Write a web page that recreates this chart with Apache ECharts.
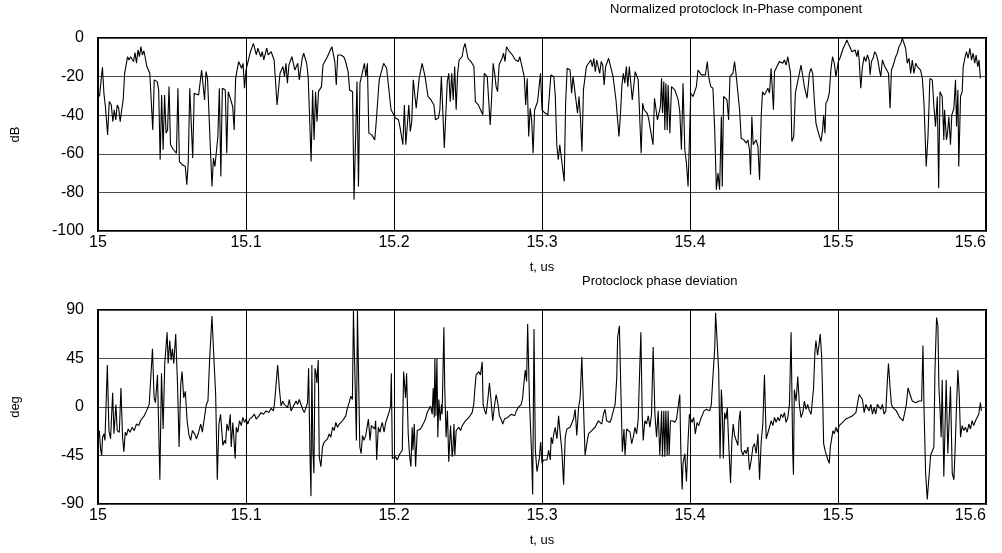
<!DOCTYPE html>
<html>
<head>
<meta charset="UTF-8"/>
<title>protoclock</title>
<script src="https://cdn.jsdelivr.net/npm/echarts@6.0.0/dist/echarts.min.js"></script>
<style>
html,body{margin:0;padding:0;background:#fff;}
#chart{width:1002px;height:553px;}
</style>
</head>
<body>
<div id="chart"></div>
<script type="text/javascript">
// time after 15 us, in ns
var tTopNs = [1,3,4,5,6.5,7.6,9,10,11,12,13,14,15,16,17,18,20,21,22,24,25,26,27,28,29,30,31,32,33,35,37,38,40,41,42,43,44,45,46,47,48,49,51,53,54,55,57,59,60,61,62,63,64,65,66,68,70,71,72,73,74,75,77,78,79,81,82,83,84,86,87,88,89,91,92,93,95,97,98,99,100,101,103,105,107,108,110,111,112,114,115,117,
118,119,121,123,125,126,127,128,129,131,132,133,135,136,138,139,140,141,142,144,145,146,147,148,149,151,152,153,155,158,160,161,162,164,166,167,169,170,172,173,175,176,177,178,180,181,182,183,185,187,188,190,191,193,195,198,201,203,204,206,207,208,210,211,212,213,215,217,219,221,223,225,227,228,230,231,232,234,236,
237,238,239,240,241,242,243,244,246,247,248,250,252,254,255,257,258,260,261,263,265,266,267,268,269,270,271,273,274,275,276,278,280,282,283,284,285,287,288,289,290,291,292,293,294,295,297,298,299,300,302,304,306,308,309,310,311,312,315,316,317,319,320,321,322,324,325,326,327,328,329,330,331,333,334,335,336,337,338,339,340,341,342,343,345,346,348,350,352,353,354,355,356,357,358,359,
361,362,363,364,365,367,368,369,371,372,373,375,376,377,378,380,380.8,381.4,382.3,383,383.7,384.6,385.2,386.4,387.5,388.6,389.7,390.9,392,393.1,394.2,395.3,396.5,397.6,398.7,400.5,402.1,403.2,404.3,405.4,406.6,407.7,408.8,410.4,411.7,412.6,414,415.5,416.7,417.8,418.9,420,421.2,421.8,422.7,423.9,425,426.1,427,427.9,429,430.1,431.3,432.4,433.5,434.6,436.4,438,439.1,440.2,440.9,441.8,442.7,443.6,444.7,445.9,447,448.1,449,450.3,451.5,452.6,453.7,454.8,456.4,457.1,458.2,459.3,460.4,461.6,462.7,463.8,464.9,466.1,467.2,467.9,468.8,470.1,471.2,472.3,473.9,475,476.2,477.3,479.1,480.7,481.8,
482.9,484,485.1,486.2,487.4,488.5,489.6,490.3,491.2,491.8,493,494.1,495.2,496.3,497.5,498.6,499.3,500.2,501.3,502.4,503.5,504.6,506,506.9,508,509.4,510.5,511.6,512.7,513.6,514.3,515.4,516.5,517.7,518.8,519.9,521,521.7,522.6,523.7,524.8,526,527.1,528.2,528.9,530,531.6,532.9,534.1,535.2,536.1,537.4,539,540.1,541.2,542.4,543.5,544.6,545.7,546.8,548,549.1,550.2,551.3,552.5,553.6,554.7,555.8,557,558.1,559.6,560.8,562.1,563.7,564.8,565.9,567.1,568,568.9,570.4,571.5,572,573.3,574,574.9,576,576.9,578.3,579.4,580.1,581,581.6,582.8,583.9,584.6,585.7,586.8,587.9,589.1,590.2,591.3,592.4,593.3,594.4,595.3,596.2];
var dbTop = [-30.3,-15.2,-28.6,-35.5,-50.2,-32.9,-34.7,-43.3,-37.2,-42.4,-34.7,-36.4,-43.3,-37.2,-32.1,-18.3,-9.7,-11.4,-9.7,-12.2,-7.6,-13.1,-6.2,-9.7,-4.5,-8.8,-6.6,-10.5,-14.8,-18.3,-47.6,-21.7,-22.6,-26.9,-63.1,-29.5,-57.9,-29.5,-49.3,-47.6,-25.2,-55.3,-57.9,-59.7,-26,-64,-65.7,-66.6,-76,-64,-26,-26,-62.2,-28.6,-27.8,-29.5,-16.6,-17.4,-32.1,-17.4,-20.9,-21.7,-76.9,-62.2,-66.6,-51,-26,-71.7,-26,-26.9,-59.7,-27.8,-30.3,-35.5,-47.6,-20.9,-12.2,-15.7,-13.1,-26,-16.6,-16.6,-7.1,-2.8,-8.8,-5.3,-9.7,-7.1,-11.4,-5.3,-8.8,-7.1,
-7.9,-11.4,-34.7,-18.3,-14.8,-20,-13.1,-23.4,-14,-9.7,-8.8,-16.6,-13.1,-21.7,-10.5,-7.9,-8.8,-13.1,-20,-64,-26.9,-52.8,-27.8,-43.3,-27.8,-25.2,-14,-13.1,-9.7,-4.5,-12.2,-24.3,-8.8,-8.8,-9.7,-11.4,-17.4,-26.9,-27.8,-83.8,-22.6,-76.9,-23.4,-22.6,-13.1,-20,-13.1,-49.3,-50.2,-52.8,-43.3,-21.7,-20.9,-13.1,-15.7,-37.2,-41.5,-42.4,-45.9,-55.3,-34.7,-55.3,-34.7,-48.4,-43.3,-21.7,-36.4,-20.9,-13.1,-20,-30.3,-32.1,-34.7,-42.4,-41.5,-37.2,-20,-57,-22.6,
-18.3,-33,-18.3,-32.1,-14.8,-37.2,-18.3,-11.4,-9.7,-5.3,-2.8,-10.5,-12.2,-14.8,-33,-34.7,-36.4,-39.8,-18.3,-20,-45,-30.3,-13.1,-18.3,-25.2,-27.8,-14,-10.5,-7.9,-12.2,-4.5,-7.1,-8.8,-11.4,-10.5,-12.2,-9.7,-16.6,-20,-34.7,-20.9,-51,-36.4,-42.4,-59.7,-37.2,-33,-32.1,-18.3,-37.2,-38.9,-39.8,-19.1,-20,-30.3,-55.3,-63.1,-55.3,-74.3,-32.9,-15.7,-16.6,-28.6,-20,-19.1,-38.9,-30.3,-41.5,-58.8,-26.9,-26,-14.8,-15.7,-11.4,-14.8,-10.5,-17.4,-11.4,-11.4,-18.3,-12.2,-14,-24.3,-14.8,-10.5,-11.4,-20,-32.1,-51,-39.8,-24.3,-18.3,-23.4,-14.8,-25.2,-14.8,
-32.1,-31.2,-17.4,-18.3,-21.7,-59.7,-33.8,-37.2,-38.9,-41.5,-42.4,-55.3,-31.2,-32.1,-42.4,-35.5,-20.9,-38.9,-22.6,-47.6,-23.4,-47.6,-24.3,-49.3,-25.2,-26,-26.9,-29.5,-32.1,-38.1,-57.9,-23.4,-57.9,-64.8,-76.9,-28.6,-30.3,-29.5,-25.2,-16.6,-17.4,-19.1,-18.3,-19.1,-12.2,-20,-25.2,-26,-47.6,-78.6,-70,-78.6,-40.7,-76.9,-30.3,-29.5,-32.1,-42.4,-20,-20,-18.3,-12.2,-20,-20.9,-37.2,-51.9,-52.8,-54.5,-52.8,-57.9,-70.9,-40.7,-55.3,-54.5,-52.8,-56.2,-73.4,-40.7,-27.8,-29.5,-28.6,-26,-28.6,-15.7,-37.2,-17.4,-15.7,-16.6,-12.2,-11.4,-13.1,-11.4,-14,-9.7,-14.8,-18.3,-53.6,-51,-28.6,-24.3,-18.3,-14,-14.8,-25.2,-31.2,-18.3,-15.7,
-18.3,-32.1,-44.1,-47.6,-46.7,-53.6,-47.6,-39.8,-49.3,-33.8,-32.1,-28.6,-16.6,-9.7,-13.1,-20,-20,-12.2,-10.5,-7.9,-5.3,-3.6,-1,-2.8,-4.5,-7.1,-7.9,-6.2,-9.7,-6.2,-11.4,-26,-14.8,-9.7,-12.2,-8.8,-11.4,-19.1,-12.2,-10.5,-7.1,-8.8,-12.2,-17.4,-20,-11.4,-14.8,-14.8,-18.3,-36.4,-16.6,-14,-9.7,-7.9,-4.5,-2.8,-0.2,-1,-5.3,-13.1,-10.5,-18.3,-11.4,-18.3,-13.1,-14.8,-14.8,-16.6,-20.9,-33.8,-66.6,-51,-20.9,-21.7,-35.5,-45.9,-30.3,-77.8,-27.8,-30.3,-52.8,-37.2,-52.8,-49.3,-40.7,-55.3,-39.8,-36.4,-21.7,-45.9,-26.9,-66.6,-30.3,-27.8,-14.8,-10.5,-7.1,-10.5,-5.3,-11.4,-7.9,-13.1,-8.8,-14.8,-11.4,-20.9];

var tBotNs = [0.9,1.8,2.5,3.1,4,4.7,6.3,7.4,8.5,9.9,10.8,12.1,13,14.4,15.5,16.6,17.5,18.4,19.3,20.4,21.6,23.1,24.5,26,27.6,28.7,29.9,31.2,32.8,34.6,35.7,36.8,37.9,38.8,40.2,41.8,42.9,44,45.1,46.7,47.4,48.5,49.4,50.3,51.2,52.5,53.7,54.8,55.9,56.8,57.9,59,60.2,61.5,62.6,63.8,65.3,66.5,68,69.4,70.5,71.6,73.2,74.3,75.4,77,78.1,79.5,80.6,81.7,82.8,84.4,85.5,86.2,87.1,88.2,89.4,90,91.1,92.7,93.4,94.5,95.6,96.8,97.9,99,100.1,101.2,102.4,103.9,105.7,106.9,108.7,110.2,111.8,113.6,115.4,117,118.5,
119.2,120.3,121.4,122.5,123.7,124.8,125.9,127,128.1,129.3,130.4,131.5,132.6,133.8,134.9,136,137.1,138.3,139.4,140.5,141.6,142.3,143.2,143.9,144.5,145.2,145.9,146.6,147.2,147.9,148.8,149.5,150.6,151.7,152.8,154,155.1,156.2,157.3,158.5,159.6,160.7,161.8,163,164.1,165.2,166.3,167.4,168.6,169.7,170.8,171.9,172.6,173.7,174.6,175.3,176,176.9,177.8,178.7,179.8,180.9,182,182.7,183.8,184.7,185.8,187,187.6,188.3,189.4,190.6,191.2,192.1,193.3,194.4,195.5,196.6,197.7,198.2,198.9,200,201.1,202.2,203.4,204.7,205.6,206.5,207.8,208.5,209.6,210.5,211.4,212.3,212.8,213.7,214.6,215.7,216.8,217.9,219.1,220.2,221.3,222.4,223.6,224.7,225.4,225.8,226.5,227.2,227.6,228.3,229,229.6,230.3,231.2,232.1,232.5,233.7,234.3,235.2,236.1,237,238.2,239.3,
239.8,240.5,241.1,242,242.9,243.8,245,246.1,247.2,248.3,249.4,250.6,251.7,252.8,253.9,254.6,255.5,256.4,257.3,258.4,259.6,260.2,261.3,262.2,263.4,264.5,265.6,266.7,267.9,269,270.3,271.2,272.3,273.5,274.6,275.7,276.8,278,279.3,280.4,281.5,282.7,283.8,284.7,286,286.9,287.8,288.7,289.6,290.3,291.6,292.8,293.7,294.6,295.5,296.6,297.3,298.2,299.1,300,301.1,302.2,303.3,304.5,305.6,306.2,307.1,307.8,308.9,310.1,311.2,312.3,313.4,314.6,315.7,316.8,317.9,319,320.2,321.3,322.4,323.5,324.7,325.8,326.9,328,329.1,330.3,331.4,332.5,333.6,334.8,335.9,337,338.1,339.2,340.4,341.5,342.6,343.7,344.9,346,347.1,348.2,349.4,350.5,351.1,352.3,353.4,354.3,355.4,356.1,357.2,358.3,359.5,360.6,
361.7,362.8,363.9,365,366.2,366.8,367.7,368.4,369.5,370.6,371.8,372.9,374,375.1,376.3,377.4,378.5,379.6,380.8,381.4,382.3,383,383.7,384.6,385.2,385.9,386.8,388.2,389.7,390.9,392,393.1,393.8,394.7,395.3,396.5,397.6,398.7,399.6,400.5,401.4,402.5,403.6,404.8,405.9,407.2,408.1,409.5,411.1,412.2,413.3,414.4,415.5,416.7,417.3,418.5,419.4,420.3,421.2,421.8,422.5,423.4,424.3,425.2,426.1,427.4,428.3,429.2,430.1,431.3,432.4,433.1,434,434.6,435.8,436.9,438,439.1,440.2,441.4,442.5,443.6,444.7,445.9,447,448.1,449.2,450.3,451.5,452.6,453.7,454.8,456,457.1,458.2,459.3,460.4,461.6,462.7,463.8,464.9,466.1,467.2,468.3,469.4,469.9,470.5,471.7,472.8,473.9,475,476.2,477.3,478.4,479.5,480.7,481.8,
482.9,483.5,484.4,485.1,486.2,487.4,488,488.9,489.6,490.3,491.2,491.8,492.5,493.4,494.1,494.8,495.7,496.6,497.5,498.6,499.7,500.8,502,503.1,504.2,505.3,506.4,507.6,508.7,509.8,510.9,512.1,513.2,514.3,515.4,516.5,517.7,518.8,519.9,521,522.2,523.3,524.4,525.5,526.6,527.8,528.9,530,531.1,532.3,533.4,534.1,535.2,536.1,537.2,538.3,539.4,540.6,541.7,542.8,543.9,545.1,546.2,547.3,548,549.1,550.2,551.3,552.5,553.6,554.7,555.8,556.5,557.4,558.1,559.2,560.3,561.4,562.6,563.7,564.8,565.5,566.6,567.5,568.2,568.9,569.7,570.4,571.5,572.4,573.1,574.2,575.1,576,577.2,578.3,579,579.9,581,581.9,582.8,583.9,585,586.1,587.3,588.4,589.5,590.6,591.7,592.9,594,595.1,596.2,596.9];
var degBot = [-21.9,-40.1,-44.7,-28,-24.9,-31,38.9,-21.9,-29.5,13.1,-24.9,2.4,-21.9,-23.4,17.6,-28,-41.6,-23.4,-26.4,-20.4,-23.4,-18.8,-21.9,-15.8,-17.3,-12.8,-14.3,-8.2,-3.6,2.4,4,54.1,8.5,4,29.8,-67.5,31.3,-20.4,40.4,69.3,40.4,61.7,43.5,54.1,40.4,67.8,22.2,-37.1,20.7,32.8,8.5,14.6,-12.8,-26.4,-31,-21.9,-24.9,-29.5,-23.4,-15.8,-23.4,-12.8,2.4,5.5,43.5,84.5,51.1,11.6,-67.5,-15.8,-6.7,-35.6,-31,-34,-15.8,-21.9,-6.7,-37.1,-14.3,-47.7,-18.8,-23.4,-12.8,-17.3,-9.7,-14.3,-11.2,-15.8,-11.2,-9.7,-6.7,-11.2,-8.2,-5.2,-6.7,-3.6,-5.2,-1.2,-3.6,
2.4,0.9,38.9,17.6,0.9,5.5,2.4,4,-0.6,7,-3.6,-5.2,2.4,5.5,2.4,7,5.5,-2.1,-5.2,-0.6,4,35.9,-41.6,-82.7,38.9,-40.1,-61.4,35.9,32.8,22.2,43.5,-46.2,-55.3,-37.1,-32.5,-34,-29.5,-24.9,-28,-18.8,-21.9,-14.3,-18.8,-15.8,-17.3,-12.8,-14.3,-8.2,-0.6,4,10,7,89,89,-31,89,89,-37.1,-43.2,-26.4,-31,-26.4,-28,-11.2,-31,-17.3,-18.8,-20.4,-12.8,-49.2,-18.8,-23.4,-18.8,-14.3,-23.4,-14.3,-9.7,-5.2,0.9,31.3,-47.7,-49.2,-46.2,-49.2,-44.7,-46.2,-40.1,32.8,8.5,31.3,-24.9,-44.7,-55.3,-18.8,-40.1,-15.8,-55.3,-21.9,-21.9,-20.4,-18.8,-14.3,-11.2,-5.2,-3.6,0.9,2.4,-6.7,17.6,-9.7,45,-8.2,45,-28,7,-12.8,2.4,-6.7,73.9,17.6,-28,-3.6,-50.8,-17.3,-46.2,
-40.1,-15.8,-44.7,-21.9,-23.4,-18.8,-21.9,-17.3,-15.8,-12.8,-11.2,-9.7,-8.2,-5.2,2.4,16.1,29.8,28.3,32.8,29.8,41.9,2.4,-3.6,-6.7,7,22.2,5.5,-12.8,0.9,11.6,2.4,-8.2,-11.2,-15.8,-11.2,-12.8,-9.7,-8.2,-6.7,-5.2,-8.2,-3.6,-0.6,-2.1,2.4,8.5,22.2,34.3,23.7,76.9,2.4,-37.1,-81.2,72.3,-40.1,-59.9,-61.4,-47.7,-32.5,-52.3,-49.2,-47.7,-49.2,-40.1,-49.2,-28,-34,-26.4,-18.8,-29.5,-8.2,-24.9,-40.1,-72,-28,-20.4,-21.9,-18.8,-20.4,-11.2,-2.1,-26.4,-0.6,8.5,46.5,2.4,-44.7,-34,-24.9,-26.4,-21.9,-21.9,-18.8,-17.3,-12.8,-11.2,-15.8,-6.7,-2.1,-12.8,-11.2,-14.3,-9.7,-3.6,2.4,26.7,64.7,75.4,8.5,-41.6,-20.4,-44.7,-20.4,-21.9,-23.4,-34,
-28,-18.8,-24.9,-11.2,-11.2,69.3,-6.7,-31,-12.8,-15.8,-8.2,-18.8,-6.7,55.6,-6.7,-28,-3.6,-44.7,-3.6,-46.2,-3.6,-46.2,-3.6,-44.7,-3.6,-44.7,-12.8,-12.8,-14.3,-11.2,-12.8,11.6,-40.1,-76.6,-52.3,-43.2,-69,-31,-6.7,-11.2,-14.3,-9.7,-24.9,-14.3,-17.3,-11.2,-12.8,-3.6,-2.1,-0.6,-3.6,2.4,28.3,54.1,87.5,87.5,32.8,-47.7,16.1,-0.6,-47.7,-5.2,-11.2,-0.6,-32.5,-70.5,-31,-15.8,-26.4,-24.9,-35.6,-12.8,-3.6,-40.1,-44.7,-40.1,-43.2,-37.1,-58.4,-49.2,-37.1,-34,-43.2,-24.9,-67.5,-32.5,-15.8,29.8,-29.5,-28,-18.8,-12.8,-17.3,-9.7,-14.3,-9.7,-12.8,-6.7,-9.7,-5.2,-14.3,-9.7,2.4,69.3,-41.6,-62.9,16.1,5.5,28.3,2.4,-9.7,-5.2,5.5,-2.1,2.4,-3.6,-6.7,
-8.2,17.6,51.1,61.7,48,60.2,67.8,48,11.6,-34,-40.1,-38.6,-46.2,-47.7,-52.3,-37.1,-29.5,-21.9,-24.9,-18.8,-23.4,-17.3,-18.8,-14.3,-15.8,-11.2,-12.8,-9.7,-11.2,-8.2,-9.7,-5.2,-3.6,11.6,13.1,7,-5.2,2.4,0.9,-3.6,2.4,-6.7,-0.6,-6.7,2.4,4,-2.1,2.4,-6.7,-3.6,25.2,40.4,17.6,2.4,-0.6,-0.6,-3.6,-6.7,-9.7,-11.2,-12.8,-5.2,2.4,17.6,19.1,10,5.5,7,4,5.5,5.5,7,5.5,57.1,-0.6,-61.4,-85.7,-84.2,-44.7,-44.7,-37.1,32.8,83,75.4,17.6,-0.6,-28,25.2,-64.4,-66,25.2,-43.2,-44.7,19.1,-61.4,-67.5,-44.7,-6.7,34.3,11.6,-28,-17.3,-21.9,-18.8,-23.4,-15.8,-20.4,-12.8,-17.3,-12.8,-11.2,-6.7,4,-3.6];

var xTicks = [15, 15.1, 15.2, 15.3, 15.4, 15.5, 15.6];

function pairs(ns, vals) {
  var out = [];
  for (var i = 0; i < ns.length && i < vals.length; i++) {
    out.push([15 + ns[i] / 1000, vals[i]]);
  }
  return out;
}

var font = "'Liberation Sans', Arial, sans-serif";

function xAxisOf(idx) {
  return {
    gridIndex: idx,
    type: 'value',
    min: xTicks[0],
    max: xTicks[xTicks.length - 1],
    interval: 0.1,
    name: 't, us',
    nameLocation: 'middle',
    nameGap: 30,
    nameTextStyle: {color: '#000', fontSize: 13, fontFamily: font},
    axisLine: {show: false},
    axisTick: {show: false},
    axisLabel: {
      color: '#000', fontSize: 16, fontFamily: font, margin: 4,
      alignMaxLabel: 'right',
      formatter: function (v) { return String(Math.round(v * 10) / 10); }
    },
    splitLine: {show: true, lineStyle: {color: '#000', width: 1}}
  };
}

function yAxisOf(idx, min, max, step, name) {
  return {
    gridIndex: idx,
    type: 'value',
    min: min,
    max: max,
    interval: step,
    name: name,
    nameLocation: 'middle',
    nameGap: 76,
    nameTextStyle: {color: '#000', fontSize: 13, fontFamily: font},
    axisLine: {show: false},
    axisTick: {show: false},
    axisLabel: {color: '#000', fontSize: 16, fontFamily: font, margin: 14, padding: [0, 0, 9, 0]},
    splitLine: {show: true, lineStyle: {color: '#4a4a4a', width: 1}}
  };
}

var myChart = echarts.init(document.getElementById('chart'), null, {renderer: 'canvas'});
var option = {
  animation: false,
  backgroundColor: '#fff',
  title: [
    {text: 'Normalized protoclock In-Phase component', left: 610, top: 3, padding: 0,
     textStyle: {color: '#000', fontSize: 13, fontWeight: 'normal', fontFamily: font}},
    {text: 'Protoclock phase deviation', left: 582, top: 275, padding: 0,
     textStyle: {color: '#000', fontSize: 13, fontWeight: 'normal', fontFamily: font}}
  ],
  grid: [
    {left: 98, top: 38, width: 888, height: 193, show: true, borderColor: '#000', borderWidth: 2, backgroundColor: 'transparent'},
    {left: 98, top: 310, width: 888, height: 194, show: true, borderColor: '#000', borderWidth: 2, backgroundColor: 'transparent'}
  ],
  xAxis: [xAxisOf(0), xAxisOf(1)],
  yAxis: [yAxisOf(0, -100, 0, 20, 'dB'), yAxisOf(1, -90, 90, 45, 'deg')],
  series: [
    {type: 'line', xAxisIndex: 0, yAxisIndex: 0, data: pairs(tTopNs, dbTop),
     showSymbol: false, lineStyle: {color: '#000', width: 1.1}, clip: true},
    {type: 'line', xAxisIndex: 1, yAxisIndex: 1, data: pairs(tBotNs, degBot),
     showSymbol: false, lineStyle: {color: '#000', width: 1.1}, clip: true}
  ]
};
myChart.setOption(option);
</script>
</body>
</html>
